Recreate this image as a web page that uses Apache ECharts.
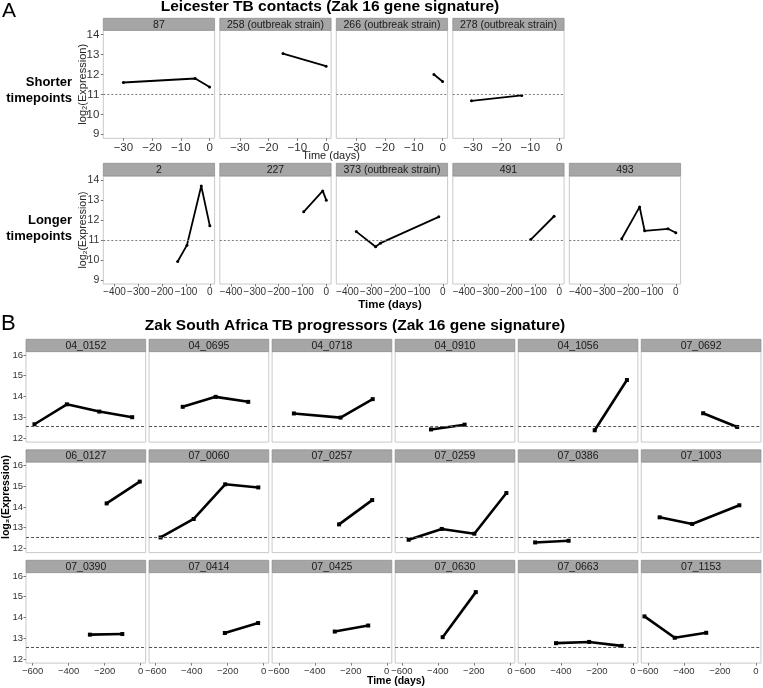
<!DOCTYPE html>
<html><head><meta charset="utf-8">
<script src="https://cdn.jsdelivr.net/npm/echarts@6/dist/echarts.min.js"></script>
<style>html,body{margin:0;padding:0;background:#fff}#c{width:763px;height:688px}</style>
</head><body><div id="c"></div>
<script>
// ---------------- DATA ----------------
const titleA = 'Leicester TB contacts (Zak 16 gene signature)';
const titleB = 'Zak South Africa TB progressors (Zak 16 gene signature)';

const a1Names = ['87', '258 (outbreak strain)', '266 (outbreak strain)', '278 (outbreak strain)'];
const a1Days  = [[-30, -5, 0], [-15, 0], [-3, 0], [-30.5, -13]];
const a1Expr  = [[11.6, 11.8, 11.37], [13.05, 12.42], [12.0, 11.65], [10.68, 10.95]];

const a2Names = ['2', '227', '373 (outbreak strain)', '491', '493'];
const a2Days  = [[-135, -96, -36, 0], [-95, -15, 0], [-363, -282, -262, -17], [-120, -22], [-227, -152, -131, -33, 0]];
const a2Expr  = [[9.93, 10.75, 13.72, 11.72], [12.42, 13.47, 13.0], [11.43, 10.67, 10.85, 12.17], [11.03, 12.2], [11.07, 12.67, 11.47, 11.57, 11.37]];

const bNames = ['04_0152', '04_0695', '04_0718', '04_0910', '04_1056', '07_0692',
                '06_0127', '07_0060', '07_0257', '07_0259', '07_0386', '07_1003',
                '07_0390', '07_0414', '07_0425', '07_0630', '07_0663', '07_1153'];
const bDays = [[-590, -410, -230, -47], [-450, -267, -86], [-516, -257, -78], [-438, -251], [-212, -33], [-293, -104],
               [-189, -5], [-573, -389, -214, -30], [-265, -81], [-562, -378, -197, -19], [-543, -357], [-535, -354, -92],
               [-282, -102], [-216, -31], [-289, -103], [-373, -189], [-427, -243, -62], [-619, -451, -276]];
const bExpr = [[12.66, 13.62, 13.27, 13.0], [13.5, 13.98, 13.74], [13.18, 12.98, 13.87], [12.41, 12.64], [12.37, 14.79], [13.19, 12.53],
               [14.17, 15.22], [12.53, 13.42, 15.09, 14.94], [13.16, 14.33], [12.42, 12.94, 12.71, 14.67], [12.29, 12.37], [13.5, 13.18, 14.08],
               [13.17, 13.2], [13.25, 13.73], [13.32, 13.61], [13.05, 15.22], [12.76, 12.82, 12.63], [14.05, 13.02, 13.26]];

const aThreshold = 11;
const bThreshold = 12.55;
const aYTicks  = [9, 10, 11, 12, 13, 14];
const a1XTicks = [-30, -20, -10, 0];
const a2XTicks = [-400, -300, -200, -100, 0];
const bYTicks  = [12, 13, 14, 15, 16];
const bXTicks  = [-600, -400, -200, 0];

// ---------------- LAYOUT ----------------
const FF = '"Liberation Sans", Arial, sans-serif';
const grids = [], xAxes = [], yAxes = [], series = [], graphics = [];
const fmt = v => (v < 0 ? '\u2212' + Math.abs(v) : String(v));

function axisCfg(gi, min, max, show, ticks, margin, font) {
  const a = {gridIndex: gi, type: 'value', min: min, max: max,
    axisLine: {show: false, onZero: false}, splitLine: {show: false}};
  if (show) {
    a.axisTick = {show: true, length: 2.5, lineStyle: {color: '#7a7a7a'}, customValues: ticks};
    a.axisLabel = {show: true, customValues: ticks, formatter: fmt, color: '#333',
      margin: margin, fontSize: font, fontFamily: FF};
  } else {
    a.axisTick = {show: false};
    a.axisLabel = {show: false};
  }
  return a;
}

function addPanel(p) {
  const gi = grids.length;
  grids.push({left: p.left, top: p.top, width: p.width, height: p.height, show: true,
    borderColor: '#c9c9c9', borderWidth: 1, backgroundColor: '#fff', containLabel: false, outerBoundsMode: 'none'});
  xAxes.push(axisCfg(gi, p.xMin, p.xMax, p.showX, p.xTicks, p.xMargin, p.xFont));
  yAxes.push(axisCfg(gi, p.yMin, p.yMax, p.showY, p.yTicks, p.yMargin, p.yFont));
  series.push({type: 'line', xAxisIndex: gi, yAxisIndex: gi,
    data: p.days.map((d, i) => [d, p.expr[i]]),
    symbol: p.symbol, symbolSize: p.symbolSize, showSymbol: true,
    lineStyle: {color: '#000', width: p.lw}, itemStyle: {color: '#000'},
    silent: true, animation: false, z: 3,
    markLine: {silent: true, symbol: 'none', animation: false, label: {show: false},
      lineStyle: {color: p.refColor, type: p.refType, width: 1}, data: [{yAxis: p.ref}]}});
  graphics.push({type: 'rect', shape: {x: p.left, y: p.top - p.stripH, width: p.width, height: p.stripH},
    style: {fill: '#a6a6a6', stroke: '#8a8a8a', lineWidth: 0.7}});
  graphics.push({type: 'text', x: p.left + p.width / 2, y: p.top - p.stripH / 2 + 0.5,
    style: {text: p.name, fill: '#1a1a1a', fontSize: p.stripFont, fontFamily: FF,
      align: 'center', verticalAlign: 'middle'}});
}

// Panel A
const aLeft = 103.3, aStep = 116.5, aW = 111.3;
const aRows = [
  {names: a1Names, days: a1Days, expr: a1Expr, top: 30.3, h: 108, stripH: 12, xMin: -37, xMax: 1.75, xTicks: a1XTicks, xFont: 11.5, yFont: 11.5},
  {names: a2Names, days: a2Days, expr: a2Expr, top: 176, h: 108, stripH: 12.7, xMin: -447, xMax: 20, xTicks: a2XTicks, xFont: 10, yFont: 10.5}
];
aRows.forEach((r) => {
  r.names.forEach((nm, i) => {
    addPanel({left: aLeft + i * aStep, top: r.top, width: aW, height: r.h, stripH: r.stripH,
      name: nm, days: r.days[i], expr: r.expr[i],
      xMin: r.xMin, xMax: r.xMax, xTicks: r.xTicks, showX: true, xMargin: 3.5, xFont: r.xFont,
      yMin: 8.8, yMax: 14.22, yTicks: aYTicks, showY: i === 0, yMargin: 4, yFont: r.yFont,
      symbol: 'circle', symbolSize: 3, lw: 1.8, ref: aThreshold, refColor: '#7a7a7a', refType: [2, 2],
      stripFont: 10.5});
  });
});

// Panel B
const bLeft = 26, bStep = 123.05, bW = 119.7, bTop0 = 351.6, bRowStep = 110.5, bH = 90.5, bStripH = 12.3;
bNames.forEach((nm, k) => {
  const r = Math.floor(k / 6), c = k % 6;
  addPanel({left: bLeft + c * bStep, top: bTop0 + r * bRowStep, width: bW, height: bH, stripH: bStripH,
    name: nm, days: bDays[k], expr: bExpr[k],
    xMin: -637, xMax: 28, xTicks: bXTicks, showX: r === 2, xMargin: 3.5, xFont: 9.5,
    yMin: 11.8, yMax: 16.16, yTicks: bYTicks, showY: c === 0, yMargin: 3, yFont: 9.5,
    symbol: 'rect', symbolSize: 4, lw: 2.6, ref: bThreshold, refColor: '#555', refType: [3, 2],
    stripFont: 10.5});
});

// Titles, labels
graphics.push(
  {type: 'text', x: 2, y: 1, style: {text: 'A', fontSize: 21, fontFamily: FF, fill: '#000'}},
  {type: 'text', x: 1, y: 313, style: {text: 'B', fontSize: 22, fontFamily: FF, fill: '#000'}},
  {type: 'text', x: 330, y: 7, style: {text: titleA, fontSize: 15.5, fontWeight: 'bold', fontFamily: FF, fill: '#000', align: 'center', verticalAlign: 'middle'}},
  {type: 'text', x: 355, y: 326, style: {text: titleB, fontSize: 15.5, fontWeight: 'bold', fontFamily: FF, fill: '#000', align: 'center', verticalAlign: 'middle'}},
  {type: 'text', x: 72, y: 90, style: {text: 'Shorter\ntimepoints', fontSize: 13, lineHeight: 16, fontWeight: 'bold', fontFamily: FF, fill: '#000', align: 'right', verticalAlign: 'middle'}},
  {type: 'text', x: 72, y: 228, style: {text: 'Longer\ntimepoints', fontSize: 13, lineHeight: 16, fontWeight: 'bold', fontFamily: FF, fill: '#000', align: 'right', verticalAlign: 'middle'}},
  {type: 'text', x: 83, y: 84.3, rotation: Math.PI / 2, style: {text: 'log\u2082(Expression)', fontSize: 11, fontFamily: FF, fill: '#222', align: 'center', verticalAlign: 'middle'}},
  {type: 'text', x: 83, y: 230, rotation: Math.PI / 2, style: {text: 'log\u2082(Expression)', fontSize: 10.5, fontFamily: FF, fill: '#222', align: 'center', verticalAlign: 'middle'}},
  {type: 'text', x: 6, y: 497, rotation: Math.PI / 2, style: {text: 'log\u2082(Expression)', fontSize: 10.5, fontWeight: 'bold', fontFamily: FF, fill: '#000', align: 'center', verticalAlign: 'middle'}},
  {type: 'text', x: 331, y: 156, style: {text: 'Time (days)', fontSize: 11, fontFamily: FF, fill: '#222', align: 'center', verticalAlign: 'middle'}},
  {type: 'text', x: 390, y: 305, style: {text: 'Time (days)', fontSize: 11.5, fontWeight: 'bold', fontFamily: FF, fill: '#000', align: 'center', verticalAlign: 'middle'}},
  {type: 'text', x: 396, y: 681, style: {text: 'Time (days)', fontSize: 10.5, fontWeight: 'bold', fontFamily: FF, fill: '#000', align: 'center', verticalAlign: 'middle'}}
);

const chart = echarts.init(document.getElementById('c'), null, {renderer: 'canvas'});
chart.setOption({
  animation: false,
  backgroundColor: '#fff',
  grid: grids, xAxis: xAxes, yAxis: yAxes, series: series,
  graphic: {elements: graphics}
});
</script></body></html>
